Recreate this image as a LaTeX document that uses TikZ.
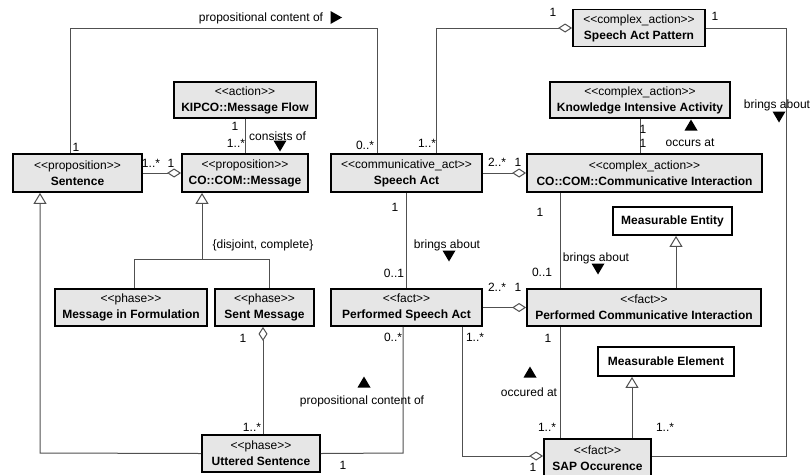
\documentclass[tikz,border=0pt]{standalone}
\usepackage{fontspec}
\setmainfont{Liberation Sans}[Ligatures=TeXOff]
\usetikzlibrary{arrows.meta}
\definecolor{boxfill}{HTML}{E6E6E6}
\definecolor{linegray}{HTML}{505050}

\begin{document}
\begin{tikzpicture}[x=1pt,y=-1pt,
  font=\fontsize{12}{16}\selectfont,
  cls/.style={draw=black, line width=1.8pt, fill=boxfill, align=center, inner sep=0pt},
  plainbox/.style={draw=black, line width=1.8pt, fill=white, align=center, inner sep=0pt},
  conn/.style={draw=linegray, line width=1pt},
  agg/.style={conn, -{Diamond[open, fill=white, length=14pt, width=9pt]}},
  gen/.style={conn, -{Triangle[open, fill=white, length=11pt, width=13pt]}},
  lbl/.style={inner sep=0pt, anchor=center},
  tridn/.pic={\fill (-6.5,-5.5) -- (6.5,-5.5) -- (0,5.5) -- cycle;},
  triup/.pic={\fill (-6.5,5.5) -- (6.5,5.5) -- (0,-5.5) -- cycle;},
  trirt/.pic={\fill (-5.5,-6.5) -- (-5.5,6.5) -- (6,0) -- cycle;}]
\useasboundingbox (0,0) rectangle (810,474);

% ---- classes ----
\node[cls, minimum width=129, minimum height=38] (sent) at (77.5,173) {<<proposition>>\\\textbf{Sentence}};
\node[cls, minimum width=126, minimum height=38] (msg) at (245,173) {<<proposition>>\\\textbf{CO::COM::Message}};
\node[cls, minimum width=142, minimum height=36] (flow) at (245,100) {<<action>>\\\textbf{KIPCO::Message Flow}};
\node[cls, minimum width=151, minimum height=38] (sact) at (406.5,173) {<<communicative\_act>>\\\textbf{Speech Act}};
\node[cls, minimum width=132, minimum height=37] (pattern) at (639,28) {<<complex\_action>>\\\textbf{Speech Act Pattern}};
\node[cls, minimum width=180, minimum height=36] (kia) at (640,100) {<<complex\_action>>\\\textbf{Knowledge Intensive Activity}};
\node[cls, minimum width=235, minimum height=38] (ci) at (644.5,173) {<<complex\_action>>\\\textbf{CO::COM::Communicative Interaction}};
\node[plainbox, minimum width=119, minimum height=28] (ment) at (672.5,221) {\textbf{Measurable Entity}};
\node[cls, minimum width=234, minimum height=37] (pci) at (644,307.5) {<<fact>>\\\textbf{Performed Communicative Interaction}};
\node[cls, minimum width=151, minimum height=37] (psa) at (406.5,307.5) {<<fact>>\\\textbf{Performed Speech Act}};
\node[cls, minimum width=152, minimum height=37] (mif) at (131,307.5) {<<phase>>\\\textbf{Message in Formulation}};
\node[cls, minimum width=99, minimum height=37] (sm) at (264.5,307.5) {<<phase>>\\\textbf{Sent Message}};
\node[cls, minimum width=118, minimum height=37] (utt) at (261,453.5) {<<phase>>\\\textbf{Uttered Sentence}};
\node[plainbox, minimum width=136, minimum height=29] (mel) at (666,361.5) {\textbf{Measurable Element}};
\node[cls, minimum width=107, minimum height=38] (sap) at (597.5,458) {<<fact>>\\\textbf{SAP Occurence}};

% ---- bend points ----
\coordinate (pcA) at (70,28);
\coordinate (pcB) at (377,28);
\coordinate (gS) at (40,453);
\coordinate (jL) at (134,259);
\coordinate (jM) at (202,259);
\coordinate (jR) at (269,259);
\coordinate (smx) at (263,0);
\coordinate (uP) at (403,453);
\coordinate (pA) at (436,28);
\coordinate (pB) at (786,28);
\coordinate (pC) at (786,456);
\coordinate (vC) at (560,0);
\coordinate (vE) at (676,0);
\coordinate (vL) at (632,0);
\coordinate (pD) at (462,456);

% ---- connectors ----
\draw[conn] (sent.north -| pcA) -- (pcA) -- (pcB) -- (sact.north -| pcB);
\draw[agg] (sent.east) -- (msg.west);
\draw[conn] (flow.south) -- (msg.north);
\draw[gen] (utt.west) -- (gS) -- (sent.south -| gS);
\draw[conn] (mif.north -| jL) -- (jL) -- (jR) -- (sm.north -| jR);
\draw[gen] (jM) -- (msg.south -| jM);
\draw[agg] (utt.north -| smx) -- (sm.south -| smx);
\draw[conn] (utt.east) -- (uP) -- (psa.south -| uP);
\draw[conn] (sact.south) -- (psa.north);
\draw[agg] (sact.east) -- (ci.west);
\draw[agg] (psa.east) -- (pci.west);
\draw[agg] (sact.north -| pA) -- (pA) -- (pattern.west);
\draw[conn] (pattern.east) -- (pB) -- (pC) -- (sap.east |- pC);
\draw[conn] (kia.south) -- (ci.north -| kia.south);
\draw[conn] (ci.south -| vC) -- (pci.north -| vC);
\draw[conn] (pci.south -| vC) -- (sap.north -| vC);
\draw[gen] (pci.north -| vE) -- (ment.south -| vE);
\draw[gen] (sap.north -| vL) -- (mel.south -| vL);
\draw[agg] (psa.south -| pD) -- (pD) -- (sap.west |- pD);

% ---- association names and reading directions ----
\node[lbl] (lPC1) at (261,18) {propositional content of};
\pic at (336,17.5) {trirt};
\node[lbl] (lCons) at (277.5,136) {consists of};
\pic at (280,146) {tridn};
\node[lbl] (lDis) at (263,245) {\{disjoint, complete\}};
\node[lbl] (lBA1) at (447,245) {brings about};
\pic at (449,256) {tridn};
\node[lbl] (lBA2) at (596,258) {brings about};
\pic at (598,269) {tridn};
\node[lbl] (lBA3) at (777,105) {brings about};
\pic at (779,117) {tridn};
\node[lbl] (lOcc) at (690,143) {occurs at};
\pic at (691,125) {triup};
\node[lbl] (lPC2) at (362,401) {propositional content of};
\pic at (364,382) {triup};
\node[lbl] (lOcd) at (529,392) {occured at};
\pic at (530,372) {triup};

% ---- multiplicities ----
\node[lbl] (m01) at (76,147) {1};
\node[lbl] (m02) at (365,145) {0..*};
\node[lbl] (m03) at (151,163) {1..*};
\node[lbl] (m04) at (171,163) {1};
\node[lbl] (m05) at (235,126) {1};
\node[lbl] (m06) at (236,143) {1..*};
\node[lbl] (m07) at (553,12) {1};
\node[lbl] (m08) at (715,16) {1};
\node[lbl] (m09) at (427,143) {1..*};
\node[lbl] (m10) at (643,129) {1};
\node[lbl] (m11) at (643,143) {1};
\node[lbl] (m12) at (497,162) {2..*};
\node[lbl] (m13) at (518,162) {1};
\node[lbl] (m14) at (395,207) {1};
\node[lbl] (m15) at (394,273) {0..1};
\node[lbl] (m16) at (540,212) {1};
\node[lbl] (m17) at (542,272) {0..1};
\node[lbl] (m18) at (497,287) {2..*};
\node[lbl] (m19) at (518,287) {1};
\node[lbl] (m20) at (243,338) {1};
\node[lbl] (m21) at (252,427) {1..*};
\node[lbl] (m22) at (343,465) {1};
\node[lbl] (m23) at (393,337) {0..*};
\node[lbl] (m24) at (475,337) {1..*};
\node[lbl] (m25) at (548,338) {1};
\node[lbl] (m26) at (547,427) {1..*};
\node[lbl] (m27) at (533,467) {1};
\node[lbl] (m28) at (665,427) {1..*};
\end{tikzpicture}
\end{document}
